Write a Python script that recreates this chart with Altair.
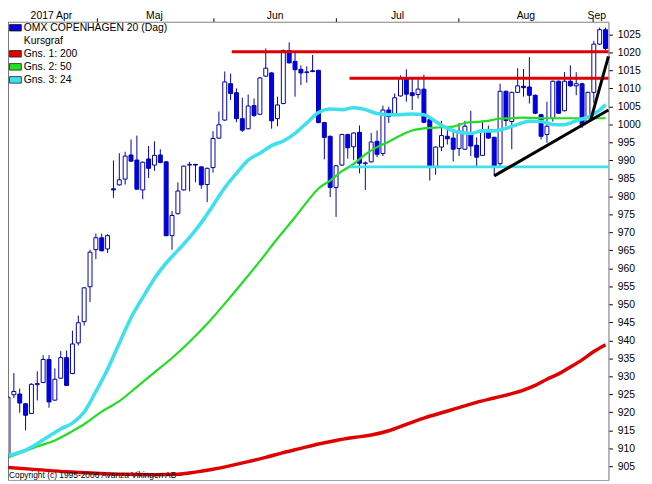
import altair as alt
import pandas as pd

# ---------------- data ----------------
opens = [907.5, 924.9, 925.1, 922.4, 919.7, 927.7, 928.3, 934.7, 923.4, 929.5,
         935.2, 930.8, 939.3, 945.2, 954.9, 965.2, 968.5, 965.4, 982.1, 983.2,
         984.8, 991.5, 990.1, 981.8, 990.4, 988.7, 991.5, 989.6, 969.1, 975.2,
         981.8, 988.7, 988.9, 988.2, 983.3, 988.0, 996.2, 1001.2, 1011.3, 1008.8,
         1001.6, 998.8, 1005.2, 1002.8, 1013.4, 1014.3, 1001.6, 1005.8, 1020.5, 1017.5,
         1015.3, 1014.4, 1014.9, 1015.0, 1000.5, 996.7, 982.5, 988.7, 997.2, 993.8,
         997.8, 989.1, 989.6, 995.3, 991.9, 1004.0, 1002.7, 1007.9, 1012.7, 1008.8,
         1008.3, 1009.8, 1001.3, 988.2, 993.7, 996.7, 996.2, 993.3, 993.1, 997.6,
         994.2, 991.4, 998.1, 996.4, 989.1, 1009.2, 1000.8, 1008.9, 1010.6, 1010.4,
         1008.1, 1002.7, 997.2, 1001.7, 1012.0, 1003.8, 1012.0, 1010.7, 1011.3, 1000.8,
         1008.9, 1022.3, 1026.3]
highs = [924.4, 930.9, 926.6, 922.6, 928.1, 931.4, 935.9, 935.9, 932.2, 937.0,
         937.2, 942.7, 946.9, 954.8, 965.2, 969.7, 969.7, 969.5, 990.0, 992.0,
         992.4, 995.8, 996.9, 989.7, 994.0, 995.3, 993.1, 989.8, 975.9, 983.9,
         988.6, 989.6, 989.0, 988.4, 988.0, 998.1, 1003.6, 1014.7, 1014.1, 1010.0,
         1007.4, 1008.3, 1007.2, 1013.2, 1021.1, 1014.5, 1007.7, 1020.8, 1022.8, 1020.0,
         1016.4, 1016.1, 1019.3, 1015.2, 1000.7, 996.9, 988.7, 997.4, 997.4, 997.8,
         999.7, 989.7, 997.6, 998.3, 1005.2, 1004.9, 1008.6, 1013.6, 1015.3, 1013.2,
         1013.2, 1013.8, 1001.5, 993.9, 1001.0, 999.0, 998.5, 1000.4, 1001.0, 1003.8,
         996.4, 1000.8, 999.7, 996.6, 1011.3, 1009.4, 1009.1, 1015.6, 1015.4, 1018.7,
         1008.3, 1002.9, 1006.3, 1012.2, 1012.2, 1014.5, 1016.4, 1014.5, 1011.5, 1009.1,
         1023.2, 1026.9, 1026.9]
lows = [907.3, 924.0, 919.9, 915.0, 919.6, 923.3, 928.1, 921.3, 923.2, 929.3,
        927.3, 930.6, 938.6, 944.1, 950.7, 962.6, 964.7, 964.3, 979.6, 983.0,
        983.3, 989.6, 981.8, 979.2, 985.1, 987.1, 989.2, 968.9, 965.2, 975.0,
        981.6, 981.4, 983.9, 982.1, 978.4, 986.6, 996.0, 1001.0, 1006.8, 1000.6,
        997.9, 998.6, 1002.1, 1002.6, 1013.2, 998.8, 999.5, 1005.6, 1016.9, 1007.7,
        1010.9, 1011.6, 1014.5, 1000.3, 990.3, 979.8, 974.3, 988.5, 990.5, 990.1,
        986.4, 981.8, 989.4, 990.9, 991.2, 1000.4, 1002.5, 1007.7, 1006.3, 1004.0,
        1007.2, 1000.4, 984.4, 986.0, 992.6, 994.4, 989.7, 991.2, 992.9, 991.2,
        988.2, 991.2, 996.0, 985.7, 988.0, 999.5, 993.1, 1008.7, 1007.7, 1005.8,
        1002.8, 995.8, 994.9, 1000.8, 1002.9, 1003.6, 1010.5, 1008.1, 999.0, 1000.6,
        1006.0, 1022.1, 1020.5]
closes = [924.2, 925.8, 922.6, 919.2, 927.8, 928.0, 934.7, 922.9, 929.2, 935.2,
          927.5, 939.0, 944.9, 954.6, 964.5, 968.5, 964.9, 969.1, 981.8, 984.6,
          991.2, 989.8, 982.0, 989.5, 987.8, 991.4, 989.4, 969.1, 974.7, 981.5,
          988.4, 988.9, 988.7, 983.2, 987.8, 996.1, 999.9, 1011.8, 1008.6, 1001.6,
          998.4, 1005.1, 1002.5, 1012.9, 1015.6, 1001.0, 1005.4, 1020.5, 1017.1, 1015.2,
          1014.3, 1014.6, 1014.7, 1000.5, 996.4, 982.5, 988.5, 997.2, 993.5, 997.6,
          989.2, 989.3, 995.1, 991.7, 1004.0, 1002.2, 1007.4, 1012.7, 1008.4, 1008.0,
          1009.8, 1000.6, 988.0, 993.7, 996.9, 996.0, 993.1, 998.1, 999.5, 994.0,
          990.9, 998.3, 996.2, 988.2, 1009.2, 1001.1, 1008.9, 1010.7, 1010.2, 1008.1,
          1003.1, 996.7, 999.5, 1012.0, 1003.1, 1012.0, 1010.7, 1011.3, 999.9, 1008.9,
          1022.3, 1026.3, 1021.1]

# moving averages (day index, value)
ma24_day = [0, 3, 5, 7, 9, 11, 13, 15, 17, 19, 21, 23, 25, 27, 29, 31, 33, 35, 37, 39,
            41, 43, 45, 47, 49, 51, 53, 55, 57, 59, 61, 63, 65, 67, 69, 71, 73, 75, 77, 79,
            81, 83, 85, 87, 89, 91, 93, 95, 97, 99, 101, 102]
ma24_val = [908.0, 909.5, 911.3, 913.4, 915.4, 917.0, 920.1, 925.8, 932.0, 939.2,
            946.3, 951.9, 957.2, 961.5, 965.0, 968.6, 972.7, 977.5, 982.4, 986.4,
            990.1, 992.0, 994.1, 995.4, 997.5, 1000.4, 1003.3, 1004.3, 1004.1, 1004.6,
            1004.1, 1003.0, 1002.7, 1002.7, 1002.9, 1002.7, 1000.8, 998.9, 997.8, 997.5,
            998.2, 998.2, 998.9, 1000.0, 1000.9, 1000.8, 1000.0, 999.9, 1001.0, 1002.0,
            1004.0, 1005.5]
ma50_day = [0, 3, 5, 8, 11, 13, 16, 19, 22, 25, 28, 31, 34, 37, 40, 43, 46, 49, 51, 53,
            55, 57, 59, 61, 63, 65, 67, 69, 71, 74, 76, 78, 80, 82, 84, 86, 88, 92, 97, 102]
ma50_val = [907.5, 909.3, 910.5, 912.2, 914.8, 916.7, 920.2, 923.1, 927.1, 931.1,
            935.1, 939.6, 944.6, 950.2, 956.0, 962.0, 968.3, 974.2, 978.4, 982.2,
            984.4, 987.0, 989.0, 991.7, 993.7, 995.2, 996.9, 998.3, 998.9, 999.2,
            999.4, 1000.4, 1000.7, 1001.0, 1001.6, 1001.7, 1001.9, 1001.7, 1001.7, 1001.7]
ma200_day = [0, 5, 10, 15, 20, 25, 29, 32, 35, 38, 41, 44, 47, 50, 53, 56, 59, 62, 65,
             68, 71, 74, 77, 80, 83, 86, 88, 90, 92, 94, 96, 98, 100, 102]
ma200_val = [904.7, 904.1, 903.5, 903.1, 902.8, 902.7, 902.8, 903.4, 904.2, 905.2,
             906.3, 907.5, 908.8, 910.0, 911.2, 912.2, 913.0, 913.7, 914.9, 916.7,
             918.4, 919.9, 921.3, 922.8, 924.0, 925.2, 926.2, 927.5, 929.2, 930.7,
             932.6, 934.6, 936.9, 938.8]

# support / resistance levels and trend lines
level_start = [38.2, 58.3, 58.3]
level_value = [1020.2, 1012.8, 988.2]
level_color = ["#e00000", "#e00000", "#3ee0f0"]
level_end = 102.5
trend_start_day = [83.0, 99.5]
trend_start_val = [985.7, 1001.4]
trend_end_day = [102.5, 102.5]
trend_end_val = [1004.0, 1018.9]

month_names = ["2017 Apr", "Maj", "Jun", "Jul", "Aug", "Sep"]
month_label_pos = [7.4, 25.0, 45.6, 66.5, 88.4, 100.5]
month_ticks = [15.2, 35.1, 56.0, 76.9, 99.8]
y_ticks = list(range(905, 1030, 5))

legend_labels = ["OMX COPENHAGEN 20 (Dag)", "Kursgraf", "Gns. 1: 200", "Gns. 2: 50", "Gns. 3: 24"]
legend_colors = ["#0000d0", None, "#e00000", "#22e022", "#3ee0f0"]
copyright_text = "Copyright (c) 1995-2006 Avanza Vikingen AB"

# ---------------- chart ----------------
W, H = 608, 464
FONT = "Liberation Sans"
BLUE = "#0000ee"
DARKBLUE = "#0000aa"

candles = pd.DataFrame({
    "day": list(range(len(opens))),
    "open": opens, "high": highs, "low": lows, "close": closes,
})

xs = alt.Scale(domain=[0.0, 102.5], nice=False, zero=False, padding=0)
ys = alt.Scale(domain=[901.2, 1028.5], nice=False, zero=False, padding=0)

x_axis = alt.Axis(orient="top", values=month_ticks, labels=False, tickSize=4,
                  tickColor="black", domainColor="#a0a0a0", grid=False, title=None)
y_axis = alt.Axis(orient="right", values=y_ticks, format="d", tickSize=4,
                  tickColor="black", domainColor="#a0a0a0", grid=False, title=None,
                  labelFont=FONT, labelFontSize=10.5, labelColor="black",
                  labelPadding=5, labelOverlap=False)


def X(field):
    return alt.X(field, scale=xs, axis=x_axis, title=None)


def Y(field):
    return alt.Y(field, scale=ys, axis=y_axis, title=None)


wicks = alt.Chart(candles).mark_rule(color=DARKBLUE, strokeWidth=1).encode(
    x=X("day:Q"), y=Y("low:Q"), y2="high:Q",
)
bodies = alt.Chart(candles).mark_bar(size=4, stroke=DARKBLUE, strokeWidth=1).encode(
    x=X("day:Q"), y=Y("open:Q"), y2="close:Q",
    fill=alt.condition("datum.close >= datum.open", alt.value("white"), alt.value(BLUE)),
)


def ma_layer(days, vals, color, width):
    df = pd.DataFrame({"day": days, "val": vals})
    return alt.Chart(df).mark_line(color=color, strokeWidth=width, interpolate="monotone",
                                   clip=True).encode(x=X("day:Q"), y=Y("val:Q"))


ma200 = ma_layer(ma200_day, ma200_val, "#e00000", 3.5)
ma50 = ma_layer(ma50_day, ma50_val, "#22dd22", 2.2)
ma24 = ma_layer(ma24_day, ma24_val, "#3ee0f0", 3.6)

levels_df = pd.DataFrame({"start": level_start, "end": [level_end] * len(level_start),
                          "val": level_value, "col": level_color})
levels = alt.Chart(levels_df).mark_rule(strokeWidth=3).encode(
    x=X("start:Q"), x2="end:Q", y=Y("val:Q"),
    color=alt.Color("col:N", scale=None, legend=None),
)

trend_df = pd.DataFrame({"d1": trend_start_day, "v1": trend_start_val,
                         "d2": trend_end_day, "v2": trend_end_val})
trends = alt.Chart(trend_df).mark_rule(color="black", strokeWidth=3).encode(
    x=X("d1:Q"), y=Y("v1:Q"), x2="d2:Q", y2="v2:Q",
)

months_df = pd.DataFrame({"pos": month_label_pos, "name": month_names})
months = alt.Chart(months_df).mark_text(font=FONT, fontSize=10.5, color="black",
                                        align="center", baseline="alphabetic").encode(
    x=X("pos:Q"),
    y=alt.value(-2.5),
    text="name:N",
)

one = pd.DataFrame({"a": [0]})
left_line = alt.Chart(one).mark_rule(color="#505050", strokeWidth=1).encode(
    x=alt.value(0), y=alt.value(0), y2=alt.value(H))

legend_layers = []
for k, (lab, col) in enumerate(zip(legend_labels, legend_colors)):
    yc = 6 + 13.2 * k
    if col is not None:
        legend_layers.append(
            alt.Chart(one).mark_rect(fill=col, stroke="#202020", strokeWidth=0.8).encode(
                x=alt.value(1.5), x2=alt.value(13.5),
                y=alt.value(yc - 3.3), y2=alt.value(yc + 3.3)))
    legend_layers.append(
        alt.Chart(pd.DataFrame({"t": [lab]})).mark_text(
            font=FONT, fontSize=10.5, color="black", align="left", baseline="middle").encode(
            x=alt.value(16), y=alt.value(yc), text="t:N"))

copyright_layer = alt.Chart(pd.DataFrame({"t": [copyright_text]})).mark_text(
    font=FONT, fontSize=8.5, color="black", align="left", baseline="middle").encode(
    x=alt.value(1), y=alt.value(459), text="t:N")

chart = alt.layer(
    wicks, bodies, ma200, ma50, ma24, levels, trends, months, left_line,
    *legend_layers, copyright_layer
).properties(
    width=W, height=H,
    padding={"left": 0, "top": 11, "right": 36, "bottom": 0},
    autosize=alt.AutoSizeParams(type="none"),
    background="white",
).configure_view(stroke="#a0a0a0", strokeWidth=1)

chart.save("out.html", embed_options={"renderer": "svg", "actions": False})
